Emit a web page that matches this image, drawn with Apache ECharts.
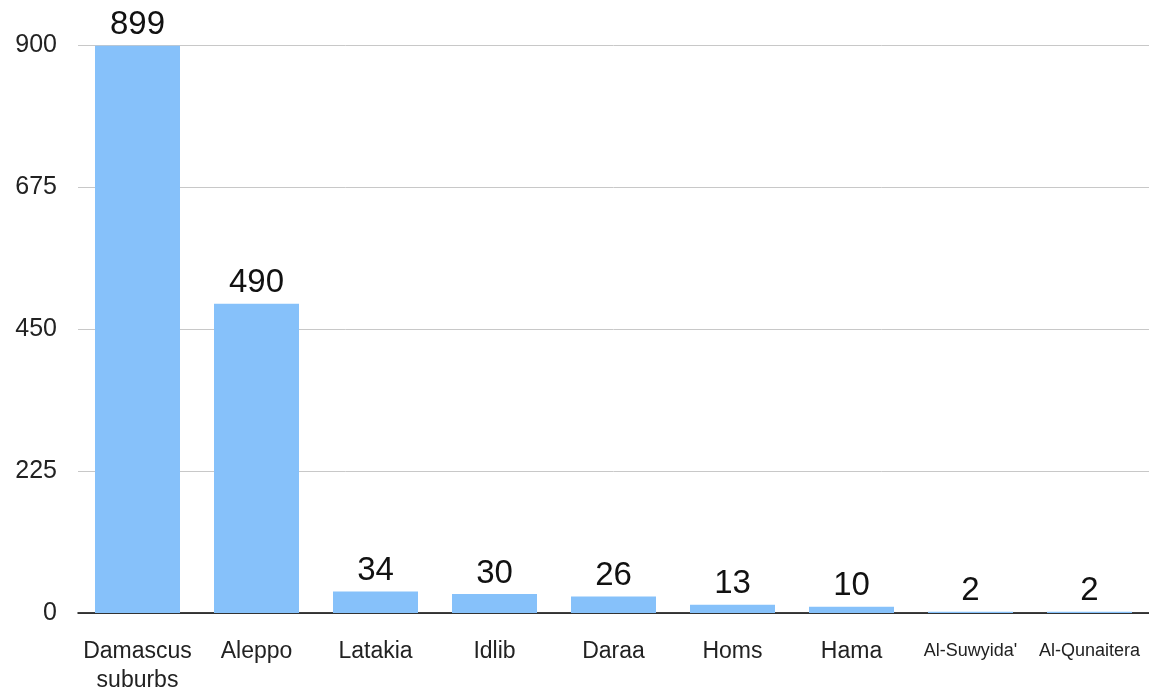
<!DOCTYPE html>
<html><head><meta charset="utf-8">
<script src="https://cdn.jsdelivr.net/npm/echarts@6/dist/echarts.min.js"></script>
<style>html,body{margin:0;padding:0;background:#fff}#c{width:1149px;height:689px}</style>
</head><body><div id="c"></div>
<script>
const categories = ['Damascus\nsuburbs', 'Aleppo', 'Latakia', 'Idlib', 'Daraa', 'Homs', 'Hama', "Al-Suwyida'", 'Al-Qunaitera'];
const values = [899, 490, 34, 30, 26, 13, 10, 2, 2];
const smallLabels = ["Al-Suwyida'", 'Al-Qunaitera'];
const yTicks = [0, 225, 450, 675, 900];

const chart = echarts.init(document.getElementById('c'));
chart.setOption({
  animation: false,
  textStyle: { fontFamily: 'Liberation Sans, Helvetica, Arial, sans-serif' },
  grid: { left: 78, right: 0, top: 45, bottom: 76, containLabel: false, outerBoundsMode: 'none' },
  xAxis: {
    type: 'category',
    data: categories.map(c => smallLabels.includes(c) ? { value: c, textStyle: { fontSize: 18 } } : c),
    axisLine: { lineStyle: { color: '#000', width: 1.5 } },
    axisTick: { show: false },
    axisLabel: { color: '#222', fontSize: 23, margin: 24, lineHeight: 29, interval: 0 }
  },
  yAxis: {
    type: 'value', min: 0, max: 900, interval: 225,
    axisLine: { show: false }, axisTick: { show: false },
    axisLabel: { color: '#222', fontSize: 25, margin: 21, formatter: v => yTicks.includes(v) ? String(v) : '' },
    splitLine: { lineStyle: { color: '#c8c8c8', width: 1 } }
  },
  series: [{
    type: 'bar', data: values, barWidth: 85,
    itemStyle: { color: '#86c1fa' },
    label: { show: true, position: 'top', distance: 4, color: '#111', fontSize: 33 }
  }]
});
</script></body></html>
